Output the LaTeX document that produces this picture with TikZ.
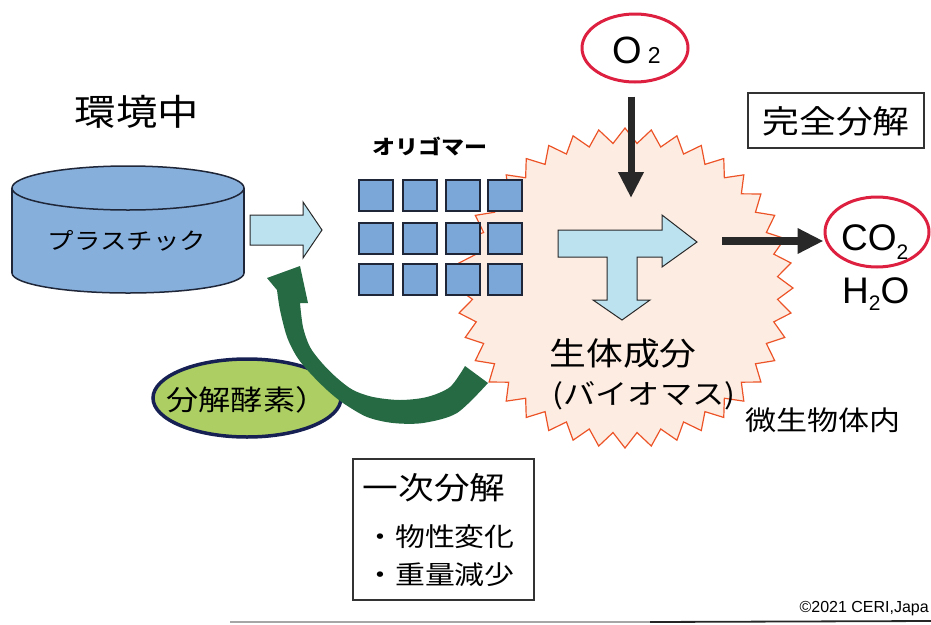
\documentclass[tikz,border=0pt]{standalone}
\usepackage{fontspec}
\setmainfont{Liberation Sans}
\newfontfamily\jp[FakeStretch=1.15]{Noto Sans CJK JP}
\newcommand{\fsz}[1]{\fontsize{#1}{#1}\selectfont}
\usetikzlibrary{shapes.geometric,arrows.meta}
\definecolor{cylblue}{RGB}{135,175,220}
\definecolor{sqblue}{RGB}{122,166,216}
\definecolor{edgedark}{RGB}{30,38,55}
\definecolor{arrcyan}{RGB}{188,226,240}
\definecolor{burstfill}{RGB}{253,236,226}
\definecolor{burstline}{RGB}{236,84,40}
\definecolor{o2red}{RGB}{222,32,64}
\definecolor{enzgreen}{RGB}{172,206,98}
\definecolor{enzedge}{RGB}{22,32,82}
\definecolor{bandgreen}{RGB}{38,106,68}
\definecolor{blackarrow}{RGB}{40,40,40}
\begin{document}
\begin{tikzpicture}[x=1pt,y=-1pt,
  jtext/.style={font=\jp, inner sep=0pt, text=black},
  lat/.style={inner sep=0pt, text=black},
  sq/.style={fill=sqblue, draw=edgedark, line width=1.4pt},
  lbarrow/.style={fill=arrcyan, draw=blackarrow, line width=1pt},
  framebox/.style={draw=black!80, line width=1.3pt},
  redell/.style={ellipse, draw=o2red, line width=3pt, inner sep=0pt},
  blk/.style={draw=blackarrow, -{Triangle[length=26pt,width=24pt]}}]
\useasboundingbox (0,0) rectangle (931,624);
\clip (0,0) rectangle (931,624);

% ---------- starburst (inside microorganism) ----------
\filldraw[fill=burstfill, draw=burstline, line width=1.2pt]
  (793,288) \foreach \i in {1,...,79} {
    -- ({625 + (mod(\i,2)==0 ? 168 : 153)*cos(\i*4.5)}, {288 + (mod(\i,2)==0 ? 160 : 145)*sin(\i*4.5)}) } -- cycle;

% ---------- cylinder ----------
\filldraw[fill=cylblue, draw=edgedark, line width=1.5pt] (128,273) ellipse [x radius=116, y radius=20];
\fill[cylblue] (12,188) rectangle (244,273);
\draw[edgedark, line width=1.5pt] (12,188) -- (12,273) (244,188) -- (244,273);
\filldraw[fill=cylblue, draw=edgedark, line width=1.5pt] (128,188) ellipse [x radius=116, y radius=22];
\node[jtext, font=\jp\fsz{23}] (plastic) at (127,241) {プラスチック};

\node[jtext, font=\jp\fsz{36}] (env) at (137,112) {環境中};

% ---------- arrow plastic -> oligomer ----------
\filldraw[lbarrow] (250,215) -- (303,215) -- (303,202) -- (322,230) -- (303,258) -- (303,245) -- (250,245) -- cycle;

% ---------- oligomer squares ----------
\node[jtext, font=\jp\bfseries\fsz{20}] (olig) at (430,147) {オリゴマー};
\foreach \c/\x in {1/359,2/403,3/446,4/488} {
  \foreach \r/\y in {1/180,2/223,3/264} {
    \filldraw[sq] (\x,\y) rectangle ++(34,31);
  }
}

% ---------- big light-blue T arrow ----------
\filldraw[lbarrow] (558,230) -- (662,230) -- (662,215) -- (697,242) -- (662,267) -- (662,257)
  -- (637,257) -- (637,300) -- (650,300) -- (622,320) -- (593,300) -- (607,300) -- (607,257)
  -- (558,257) -- cycle;

% ---------- O2 ----------
\node[redell, minimum width=106pt, minimum height=68pt] (o2ell) at (635,48) {};
\node[lat, anchor=base west] (o2txt) at (612,63) {\fsz{38}O\hspace{6pt}\fsz{23}2};
\coordinate (dnend) at (631,198);
\draw[blk, line width=7pt, shorten <=13pt] (o2ell.south -| dnend) -- (dnend);

% ---------- CO2 / H2O ----------
\node[redell, minimum width=104pt, minimum height=70pt] (co2ell) at (877,232) {};
\node[lat, anchor=base west] (co2) at (841,250) {\fsz{37}CO\raisebox{-9pt}{\fsz{21}2}};
\node[lat, anchor=base west] (h2o) at (842,303) {\fsz{37}H\raisebox{-7pt}{\fsz{21}2}O};
\coordinate (rstart) at (722,241);
\draw[blk, line width=8pt] (rstart) -- (rstart -| co2ell.west);

% ---------- labels ----------
\node[jtext, font=\jp\fsz{32}] (bio) at (623,353) {生体成分};
\node[jtext, font=\jp\fsz{28}] (biomass) at (644,396) {(バイオマス)};
\node[jtext, font=\jp\fsz{27}] (micro) at (823,420) {微生物体内};
\node[framebox, minimum width=176pt, minimum height=55pt, inner sep=0pt] (fullbox) at (836,120.5) {};
\node[jtext, font=\jp\fsz{32}] (full) at (836,121) {完全分解};

% ---------- enzyme ellipse ----------
\node[ellipse, fill=enzgreen, draw=enzedge, line width=3.5pt, minimum width=188pt, minimum height=78pt, inner sep=0pt] (enzell) at (247,398) {};
\node[jtext, font=\jp\fsz{28}] (enz) at (247,400) {分解酵素）};

% ---------- green curved arrow ----------
\fill[bandgreen] (300,303) -- (308,303) -- (300,266) -- (267,278) -- (277,290)
  -- plot[smooth] coordinates {(277,290) (280,310) (287,337) (297,357) (310,373) (327,390) (343,403) (367,417) (393,423) (423,423) (457,413) (488,383)}
  -- (465,366)
  -- plot[smooth] coordinates {(465,366) (450,387) (427,397) (400,400) (373,397) (353,390) (337,378) (322,363) (310,347) (303,327) (300,303)}
  -- cycle;

% ---------- primary degradation box ----------
\node[framebox, minimum width=181pt, minimum height=141pt, inner sep=0pt] (primbox) at (443.5,529.5) {};
\node[jtext, font=\jp\fsz{31}] (prim) at (434,488) {一次分解};
\node[jtext, font=\jp\fsz{26}, anchor=west] (item1) at (365,537) {・物性変化};
\node[jtext, font=\jp\fsz{26}, anchor=west] (item2) at (365,575) {・重量減少};

% ---------- footer ----------
\draw[black!35, line width=1.2pt] (230,622) -- (650,622);
\draw[black!85, line width=1.8pt] (650,622) -- (931,621);
\node[lat, anchor=base east] (copy) at (929,612) {\fsz{16}©2021 CERI,Japa};
\end{tikzpicture}
\end{document}
